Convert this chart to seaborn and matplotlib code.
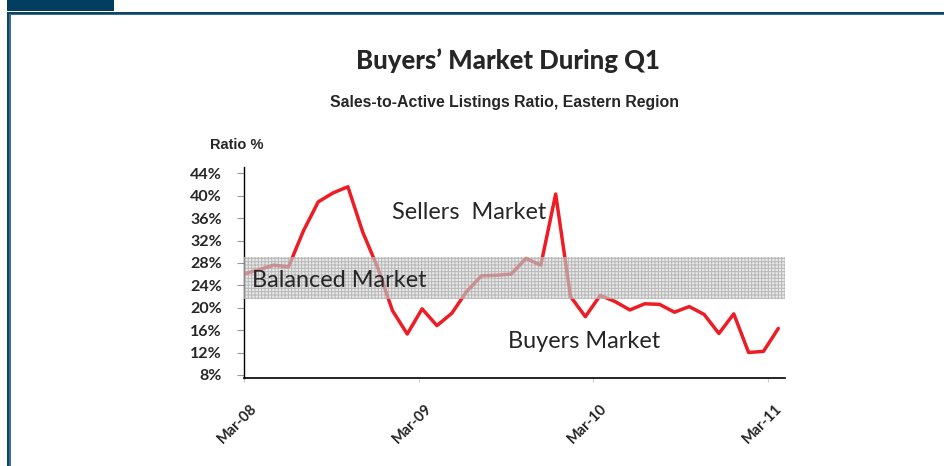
import numpy as np
import pandas as pd
import matplotlib
matplotlib.use("Agg")
import matplotlib.pyplot as plt
import matplotlib.transforms as mtransforms
from matplotlib.patches import Rectangle
import seaborn as sns

# sales-to-active listings ratio (%), Eastern region
dates = pd.date_range("2008-03-01", periods=37, freq="31D")
ratio = [26.0, 26.8, 27.6, 27.3, 33.7, 38.9, 40.5, 41.6, 33.5, 27.2,
         19.5, 15.3, 19.8, 16.8, 19.0, 22.9, 25.7, 25.8, 26.0, 28.8,
         27.6, 40.3, 22.0, 18.4, 22.2, 21.1, 19.6, 20.7, 20.6, 19.2,
         20.2, 18.8, 15.4, 18.9, 12.0, 12.2, 16.3]

tick_dates = pd.to_datetime(["2008-03-01", "2009-03-01", "2010-03-01", "2011-03-01"])
tick_labels = ["Mar-08", "Mar-09", "Mar-10", "Mar-11"]
y_ticks = list(range(8, 45, 4))
balanced_low, balanced_high = 21.5, 29.0

sns.set_style("white")
plt.rcParams["font.family"] = ["Lato", "DejaVu Sans"]
plt.rcParams["hatch.linewidth"] = 0.7

fig = plt.figure(figsize=(9.44, 4.66), dpi=100)
ax = fig.add_axes([244 / 944, 88.3 / 466, 541 / 944, 211.1 / 466])

sns.lineplot(x=dates, y=ratio, ax=ax, color="#ee1c24", linewidth=2.5, zorder=2)

# balanced market band, drawn over the line like the original
ax.axhspan(balanced_low, balanced_high, facecolor=(0.85, 0.85, 0.85, 0.6),
           edgecolor=(0.6, 0.6, 0.6, 0.6), hatch="+++++", linewidth=0, zorder=3)

ax.set_ylim(7.5, 45.2)
ax.set_xlim(pd.Timestamp("2008-03-01"), pd.Timestamp("2008-03-01") + pd.Timedelta(days=1130))
ax.set_yticks(y_ticks)
ax.set_yticklabels([f"{v}%" for v in y_ticks], fontsize=11.5, fontweight="bold")
ax.set_xticks(tick_dates)
ax.set_xticklabels(tick_labels, fontsize=10.5, fontweight="bold", rotation=45, ha="right")
ax.set_xlabel("")
ax.set_ylabel("")

for side in ["top", "right"]:
    ax.spines[side].set_visible(False)
ax.spines["left"].set_color("black")
ax.spines["left"].set_linewidth(1.0)
ax.spines["bottom"].set_color("black")
ax.spines["bottom"].set_linewidth(1.2)
ax.tick_params(axis="y", length=5, width=0.8, color="#999999", pad=11, left=True)
ax.tick_params(axis="x", length=3, width=0.8, color="#cccccc", pad=14, bottom=True)

offset = mtransforms.ScaledTranslation(16 / 100, 0, fig.dpi_scale_trans)
for lbl in ax.get_xticklabels():
    lbl.set_transform(lbl.get_transform() + offset)

ax.text(0.2736, 0.750, "Sellers  Market", transform=ax.transAxes, fontsize=16.9,
        ha="left", va="baseline", zorder=5)
ax.text(0.0148, 0.428, "Balanced Market", transform=ax.transAxes, fontsize=16.9,
        ha="left", va="baseline", zorder=5)
ax.text(0.488, 0.139, "Buyers Market", transform=ax.transAxes, fontsize=16.9,
        ha="left", va="baseline", zorder=5)

fig.text(508 / 944, 1 - 61 / 466, "Buyers\u2019 Market During Q1", ha="center", va="center",
         fontsize=18.5, fontweight="black")
fig.text(505 / 944, 1 - 103 / 466, "Sales-to-Active Listings Ratio, Eastern Region",
         ha="center", va="center", fontsize=11.4, fontweight="bold", family="Liberation Sans")
fig.text(210 / 944, 1 - 145 / 466, "Ratio %", ha="left", va="center",
         fontsize=10.5, fontweight="bold", family="Liberation Sans")

# page frame
W, H = 944, 466
def px_rect(x0, y0, x1, y1, color):
    fig.add_artist(Rectangle((x0 / W, 1 - y1 / H), (x1 - x0) / W, (y1 - y0) / H,
                             transform=fig.transFigure, facecolor=color,
                             edgecolor="none", zorder=10))

px_rect(7, 0, 114, 10.5, "#033d60")
px_rect(7, 12, W, 14, "#0c4466")
px_rect(7, 14, W, 15, "#3a6f8e")
px_rect(7, 12, 9, H, "#0c4466")
px_rect(9, 14, 11, H, "#3a6f8e")

fig.savefig("out.png", dpi=100, facecolor="white")
